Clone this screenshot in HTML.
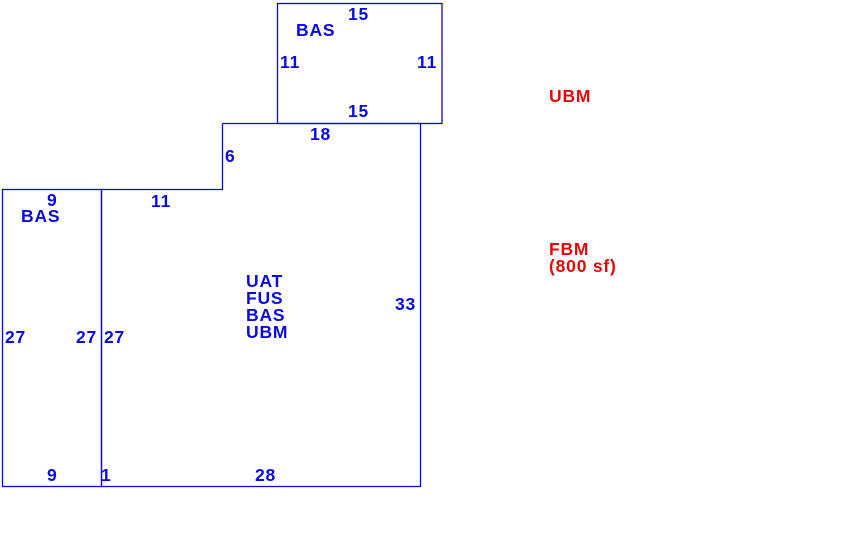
<!DOCTYPE html>
<html><head><style>html,body{margin:0;padding:0;background:#fff;width:842px;height:534px;overflow:hidden}
text{font-family:"Liberation Sans",sans-serif;font-weight:bold;font-size:17.5px;letter-spacing:0.8px;fill:#0a0ae0}
.r{fill:#e00a0a}</style></head><body>
<svg width="842" height="534" xmlns="http://www.w3.org/2000/svg">
<g fill="none" stroke="#0a0ae0" stroke-width="1.3">
<rect x="277.5" y="3.5" width="164.5" height="120"/>
<polyline points="222.5,123.5 420.5,123.5 420.5,486.5 101.5,486.5 101.5,189.5 222.5,189.5 222.5,123.5"/>
<rect x="2.5" y="189.5" width="99" height="297"/>
</g>
<text x="348" y="20">15</text>
<text x="296" y="36">BAS</text>
<text x="280" y="68">11</text>
<text x="417" y="68">11</text>
<text x="348" y="117">15</text>
<text x="310" y="140">18</text>
<text x="225" y="162">6</text>
<text x="151" y="207">11</text>
<text x="47" y="206">9</text>
<text x="21" y="222">BAS</text>
<text x="246" y="287">UAT</text>
<text x="246" y="304">FUS</text>
<text x="246" y="321">BAS</text>
<text x="246" y="338">UBM</text>
<text x="395" y="310">33</text>
<text x="5" y="343">27</text>
<text x="76" y="343">27</text>
<text x="104" y="343">27</text>
<text x="47" y="481">9</text>
<text x="101" y="481">1</text>
<text x="255" y="481">28</text>
<text class="r" x="549" y="102">UBM</text>
<text class="r" x="549" y="255">FBM</text>
<text class="r" x="549" y="272">(800 sf)</text>
</svg>
</body></html>
